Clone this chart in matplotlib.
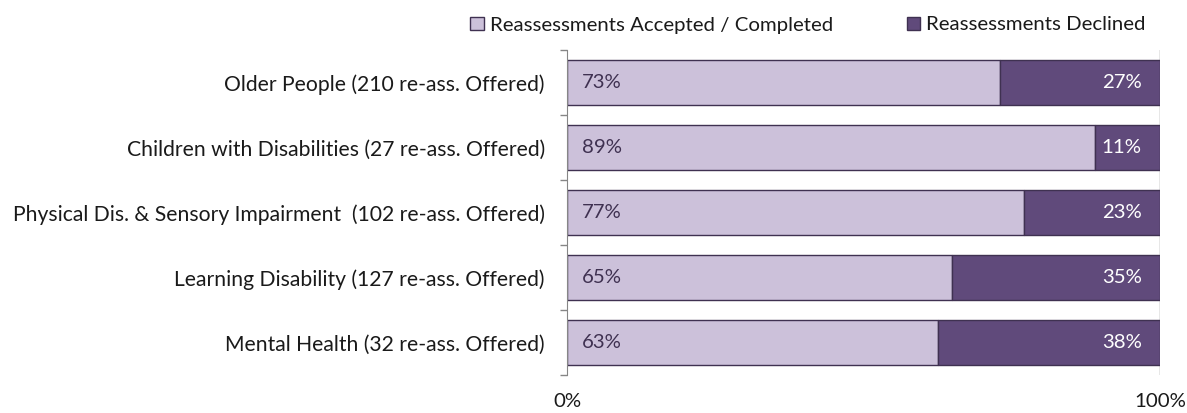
import matplotlib

matplotlib.use("Agg")
import matplotlib.pyplot as plt
from matplotlib.patches import Patch
import matplotlib.ticker as mticker

categories = [
    "Older People (210 re-ass. Offered)",
    "Children with Disabilities (27 re-ass. Offered)",
    "Physical Dis. & Sensory Impairment  (102 re-ass. Offered)",
    "Learning Disability (127 re-ass. Offered)",
    "Mental Health (32 re-ass. Offered)",
]
accepted = [73, 89, 77, 65, 62.5]
declined = [27, 11, 23, 35, 37.5]
series_names = ["Reassessments Accepted / Completed", "Reassessments Declined"]

LIGHT = "#CCC1DA"
DARK = "#604A7B"
EDGE = "#3F3151"
TEXT = "#1a1a1a"
FS = 14.7

plt.rcParams["font.family"] = ["Lato", "DejaVu Sans"]

fig = plt.figure(figsize=(11.87, 4.13), dpi=100)
ax = fig.add_axes([567 / 1187, 38 / 413, 593 / 1187, 325 / 413])

y = list(range(len(categories)))
h = 0.7
ax.barh(y, accepted, height=h, color=LIGHT, edgecolor=EDGE, linewidth=1.0)
ax.barh(y, declined, left=accepted, height=h, color=DARK, edgecolor=EDGE, linewidth=1.0)

# data labels: accepted share at the left, declined share at the right
for i in y:
    a, d = accepted[i], declined[i]
    ax.text(2.5, i, f"{int(a + 0.5)}%", va="center", ha="left", fontsize=FS, color="#3F3151")
    ax.text(96.9, i, f"{int(d + 0.5)}%", va="center", ha="right", fontsize=FS, color="white")

ax.set_xlim(0, 100)
ax.set_ylim(len(categories) - 0.5, -0.5)
ax.set_yticks(y)
ax.set_yticklabels(categories, fontsize=15.2, color=TEXT)
ax.tick_params(axis="y", which="major", length=0, pad=16)
ax.set_yticks([i - 0.5 for i in range(len(categories) + 1)], minor=True)
ax.tick_params(axis="y", which="minor", length=5, color="#868686", width=1)

ax.set_xticks([0, 100])
ax.xaxis.set_major_formatter(mticker.FuncFormatter(lambda v, p: f"{v:.0f}%"))
ax.tick_params(axis="x", length=0, labelsize=FS, labelcolor=TEXT, pad=13)
ax.axvline(100, color="#868686", linewidth=1, zorder=0)

for s in ["top", "right", "bottom"]:
    ax.spines[s].set_visible(False)
ax.spines["left"].set_color("#868686")

handles = [Patch(facecolor=LIGHT, edgecolor=EDGE, label=series_names[0]),
           Patch(facecolor=DARK, edgecolor=EDGE, label=series_names[1])]
fig.legend(handles=handles, loc="center", bbox_to_anchor=(808 / 1187, 1 - 25 / 413),
           ncol=2, frameon=False, fontsize=FS, handlelength=0.65, handleheight=0.65,
           handletextpad=0.3, columnspacing=3.6, labelcolor=TEXT)

fig.savefig("out.png", dpi=100)
